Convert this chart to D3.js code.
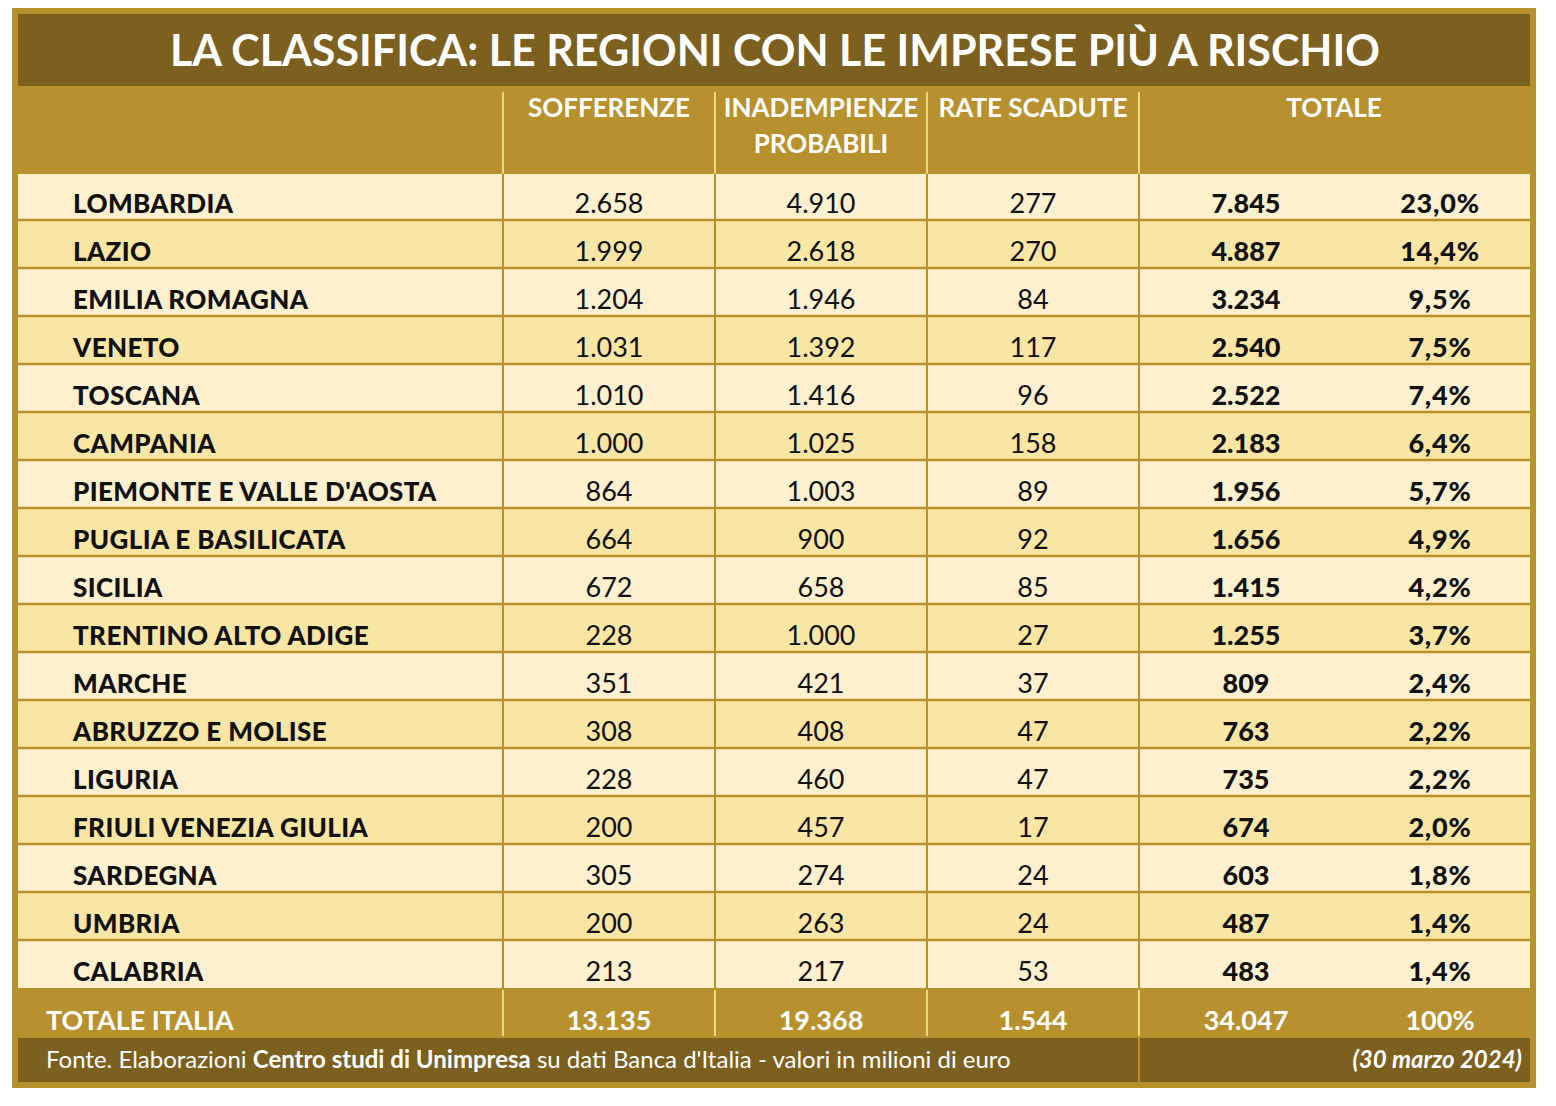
<!DOCTYPE html>
<html lang="it">
<head>
	<meta charset="UTF-8">
	<title>La classifica: le regioni con le imprese più a rischio</title>
	<style>
		body { margin: 0; background: #fff; }
		.t-title { font-family: Lato, sans-serif; font-weight: bold; font-size: 43px; fill: #fff; }
		.t-head { font-family: Lato, sans-serif; font-weight: bold; font-size: 26px; fill: #fff; }
		.t-name { font-family: Lato, sans-serif; font-weight: 900; font-size: 26px; letter-spacing: 0.4px; fill: #111; }
		.t-val { font-family: Lato, sans-serif; font-size: 27px; fill: #111; }
		.t-tot { font-family: Lato, sans-serif; font-weight: 900; font-size: 27px; fill: #111; }
		.t-pct { font-family: Lato, sans-serif; font-weight: 900; font-size: 27px; letter-spacing: 0.8px; fill: #111; }
		.t-it { font-family: Lato, sans-serif; font-weight: bold; font-size: 27px; fill: #fff; }
		.t-foot { font-family: Lato, sans-serif; font-size: 24px; fill: #fff; }
	</style>
	<script src="https://d3js.org/d3.v7.min.js"></script>
</head>
<body>
	<script>
		// dati (milioni di euro)
		const regioni = ["LOMBARDIA", "LAZIO", "EMILIA ROMAGNA", "VENETO", "TOSCANA", "CAMPANIA",
			"PIEMONTE E VALLE D'AOSTA", "PUGLIA E BASILICATA", "SICILIA", "TRENTINO ALTO ADIGE",
			"MARCHE", "ABRUZZO E MOLISE", "LIGURIA", "FRIULI VENEZIA GIULIA", "SARDEGNA", "UMBRIA", "CALABRIA"];
		const sofferenze   = [2658, 1999, 1204, 1031, 1010, 1000, 864, 664, 672, 228, 351, 308, 228, 200, 305, 200, 213];
		const inadempienze = [4910, 2618, 1946, 1392, 1416, 1025, 1003, 900, 658, 1000, 421, 408, 460, 457, 274, 263, 217];
		const rateScadute  = [277, 270, 84, 117, 96, 158, 89, 92, 85, 27, 37, 47, 47, 17, 24, 24, 53];
		const totale       = [7845, 4887, 3234, 2540, 2522, 2183, 1956, 1656, 1415, 1255, 809, 763, 735, 674, 603, 487, 483];
		const quota        = [23.0, 14.4, 9.5, 7.5, 7.4, 6.4, 5.7, 4.9, 4.2, 3.7, 2.4, 2.2, 2.2, 2.0, 1.8, 1.4, 1.4];
		const totaleItalia = [13135, 19368, 1544, 34047];
		const quotaItalia  = 100;
		const colonne = ["SOFFERENZE", "INADEMPIENZE|PROBABILI", "RATE SCADUTE"];

		const W = 1556, H = 1106;
		const gold = "#b8912f", dark = "#7b6020", light = "#fcf0cf", alt = "#f9e5a4", line = "#f4d77a";

		const it = d3.formatLocale({decimal: ",", thousands: ".", grouping: [3], currency: ["", "€"]});
		const fNum = it.format(",d"),
			  fPct = it.format(".1f");

		const svg = d3.select("body").append("svg")
			.attr("width", W).attr("height", H);

		// cornice
		svg.append("rect").attr("x", 12).attr("y", 8).attr("width", 1524).attr("height", 1080).attr("fill", gold);
		svg.append("rect").attr("x", 18).attr("y", 14).attr("width", 1512).attr("height", 72).attr("fill", dark);
		svg.append("text").attr("class", "t-title")
			.attr("x", 775).attr("y", 66).attr("text-anchor", "middle")
			.text("LA CLASSIFICA: LE REGIONI CON LE IMPRESE PIÙ A RISCHIO");

		// scale
		const y = d3.scaleBand().domain(regioni).range([172, 988]);
		const x = d3.scaleBand().domain(colonne).range([503, 1139]);
		const xTot = 1246, xPct = 1440;
		const edges = [503, 715, 927, 1139];

		// righe
		const rows = svg.append("g").selectAll("g")
			.data(regioni).enter().append("g")
			.attr("transform", d => "translate(0," + y(d) + ")");

		rows.append("rect")
			.attr("x", 18).attr("y", (d, i) => i === 0 ? 2 : 0)
			.attr("width", 1512)
			.attr("height", (d, i) => i === 0 ? y.bandwidth() - 2 : y.bandwidth())
			.attr("fill", (d, i) => i % 2 ? alt : light);

		const bl = y.bandwidth() - 7;
		rows.append("text").attr("class", "t-name")
			.attr("x", 73).attr("y", bl).text(d => d);

		const serie = [sofferenze, inadempienze, rateScadute];
		serie.forEach((s, k) => {
			rows.append("text").attr("class", "t-val")
				.attr("x", x(colonne[k]) + x.bandwidth() / 2).attr("y", bl)
				.attr("text-anchor", "middle")
				.text((d, i) => fNum(s[i]));
		});
		rows.append("text").attr("class", "t-tot")
			.attr("x", xTot).attr("y", bl).attr("text-anchor", "middle")
			.text((d, i) => fNum(totale[i]));
		rows.append("text").attr("class", "t-pct")
			.attr("x", xPct).attr("y", bl).attr("text-anchor", "middle")
			.text((d, i) => fPct(quota[i]) + "%");

		// linee orizzontali tra le righe
		svg.append("g").selectAll("line")
			.data(regioni.slice(1)).enter().append("line")
			.attr("x1", 18).attr("x2", 1530)
			.attr("y1", d => y(d)).attr("y2", d => y(d))
			.attr("stroke", gold).attr("stroke-width", 2.5);

		// linee verticali
		svg.append("g").selectAll("line")
			.data(edges).enter().append("line")
			.attr("x1", d => d).attr("x2", d => d)
			.attr("y1", 174).attr("y2", 988)
			.attr("stroke", gold).attr("stroke-width", 2);
		svg.append("g").selectAll("line")
			.data(edges).enter().append("line")
			.attr("x1", d => d).attr("x2", d => d)
			.attr("y1", 92).attr("y2", 174)
			.attr("stroke", line).attr("stroke-width", 2);
		svg.append("g").selectAll("line")
			.data(edges).enter().append("line")
			.attr("x1", d => d).attr("x2", d => d)
			.attr("y1", 990).attr("y2", 1036)
			.attr("stroke", line).attr("stroke-width", 2);

		// intestazioni
		colonne.forEach(c => {
			const parts = c.split("|");
			parts.forEach((p, j) => {
				svg.append("text").attr("class", "t-head")
					.attr("x", x(c) + x.bandwidth() / 2).attr("y", 117 + j * 36)
					.attr("text-anchor", "middle").text(p);
			});
		});
		svg.append("text").attr("class", "t-head")
			.attr("x", 1334).attr("y", 117).attr("text-anchor", "middle").text("TOTALE");

		// totale italia
		const yIt = 1030;
		svg.append("text").attr("class", "t-it").attr("x", 46).attr("y", yIt).text("TOTALE ITALIA");
		totaleItalia.slice(0, 3).forEach((v, k) => {
			svg.append("text").attr("class", "t-it")
				.attr("x", x(colonne[k]) + x.bandwidth() / 2).attr("y", yIt)
				.attr("text-anchor", "middle").text(fNum(v));
		});
		svg.append("text").attr("class", "t-it")
			.attr("x", xTot).attr("y", yIt).attr("text-anchor", "middle").text(fNum(totaleItalia[3]));
		svg.append("text").attr("class", "t-it")
			.attr("x", xPct).attr("y", yIt).attr("text-anchor", "middle").text(quotaItalia + "%");

		// fonte
		svg.append("rect").attr("x", 18).attr("y", 1038).attr("width", 1512).attr("height", 44).attr("fill", dark);
		svg.append("line").attr("x1", 1139).attr("x2", 1139).attr("y1", 1038).attr("y2", 1082)
			.attr("stroke", gold).attr("stroke-width", 2);
		const fonte = svg.append("text").attr("class", "t-foot").attr("x", 46).attr("y", 1068);
		fonte.append("tspan").text("Fonte. Elaborazioni ");
		fonte.append("tspan").attr("font-weight", "bold").text("Centro studi di Unimpresa");
		fonte.append("tspan").text(" su dati Banca d'Italia - valori in milioni di euro");
		svg.append("text").attr("class", "t-foot")
			.attr("x", 1522).attr("y", 1068).attr("text-anchor", "end")
			.attr("font-weight", "bold").attr("font-style", "italic")
			.text("(30 marzo 2024)");
	</script>
</body>
</html>
